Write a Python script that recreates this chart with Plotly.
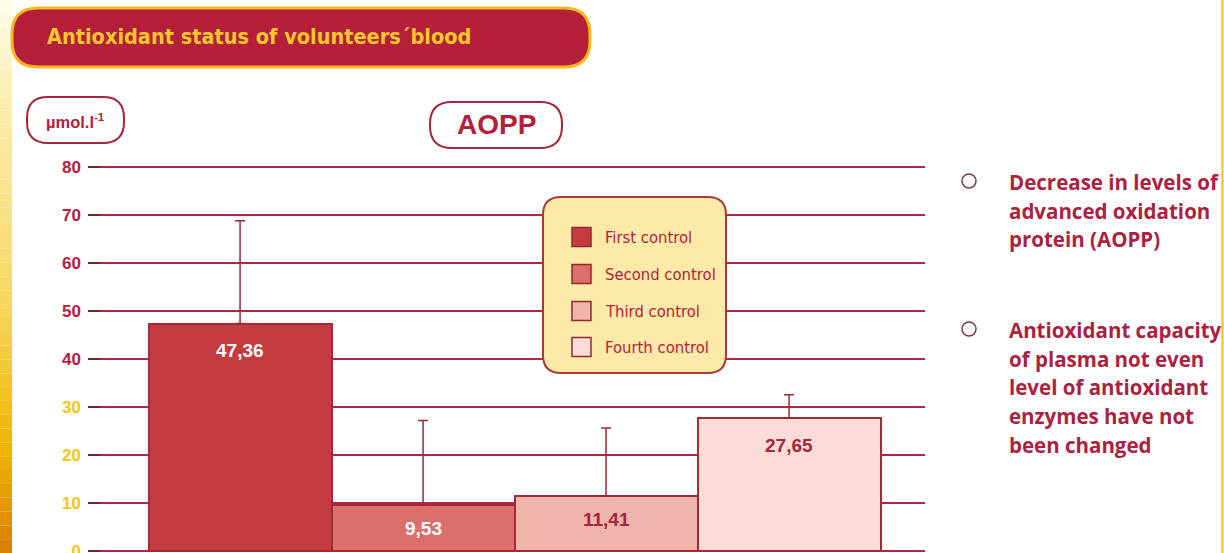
import plotly.graph_objects as go

# ---------------- data ----------------
categories = ["First control", "Second control", "Third control", "Fourth control"]
means = [47.36, 9.53, 11.41, 27.65]
err_plus = [21.4, 17.6, 14.2, 4.85]
bar_colors = ["#c33c40", "#dc6f6b", "#efb4aa", "#fcdcd6"]
label_colors = ["#ffffff", "#ffffff", "#a8243a", "#a8243a"]
y_ticks = [0, 10, 20, 30, 40, 50, 60, 70, 80]
tick_colors = ["#f6c617"] * 4 + ["#b3203c"] * 5
title_text = "Antioxidant status of volunteers\u00b4blood"
unit_text = "\u00b5mol.l<sup>-1</sup>"
panel_title = "AOPP"
bullet_blocks = [
    ["Decrease in levels of", "advanced oxidation", "protein (AOPP)"],
    ["Antioxidant capacity", "of plasma not even", "level of antioxidant", "enzymes have not", "been changed"],
]

# ---------------- geometry helpers (pixels -> paper) ----------------
W, H = 1224, 553
L, R, T, B = 88, 925, 165, 552
Y_RANGE = [-0.25, 80.4]


def px(x):
    return (x - L) / (R - L)


def py(y):
    return (B - y) / (B - T)


def rrect(x0, y0, x1, y1, r):
    pts = [
        ("M", [(x0 + r, y0)]), ("L", [(x1 - r, y0)]), ("Q", [(x1, y0), (x1, y0 + r)]),
        ("L", [(x1, y1 - r)]), ("Q", [(x1, y1), (x1 - r, y1)]), ("L", [(x0 + r, y1)]),
        ("Q", [(x0, y1), (x0, y1 - r)]), ("L", [(x0, y0 + r)]), ("Q", [(x0, y0), (x0 + r, y0)]),
    ]
    s = ""
    for cmd, ps in pts:
        s += cmd + " " + " ".join(f"{px(a):.5f},{py(b):.5f}" for a, b in ps) + " "
    return s + "Z"


CRIMSON = "#b3203c"
NARROW = "Liberation Sans Narrow, DejaVu Sans Condensed, sans-serif"
BOLD = "Liberation Sans, Arial, sans-serif"

fig = go.Figure()

xs = list(range(len(categories)))
for i, (cat, m, e, c) in enumerate(zip(categories, means, err_plus, bar_colors)):
    fig.add_trace(go.Bar(
        x=[xs[i]], y=[m], name=cat, width=1.0,
        marker=dict(color=c, line=dict(color="#a32b38", width=2)),
        error_y=dict(type="data", symmetric=False, array=[e], arrayminus=[0],
                     color="#9a2636", thickness=1.5, width=5),
        showlegend=False, hoverinfo="skip",
    ))

# value labels
annotations = []
for i, (m, lc) in enumerate(zip(means, label_colors)):
    annotations.append(dict(
        x=xs[i], y=m, xref="x", yref="y", text=f"{m:.2f}".replace(".", ","),
        showarrow=False, yanchor="middle", yshift=-27 if m > 12 else -23,
        font=dict(family=BOLD, size=19, color=lc, weight="bold"),
    ))

shapes = []
# left gradient strip
stops = [(0, (255, 252, 236)), (100, (251, 238, 176)), (300, (247, 216, 96)),
         (450, (240, 180, 0)), (553, (218, 126, 0))]
n = 40
for k in range(n):
    y0 = H * k / n
    y1 = H * (k + 1) / n
    ym = (y0 + y1) / 2
    for j in range(len(stops) - 1):
        if stops[j][0] <= ym <= stops[j + 1][0]:
            t = (ym - stops[j][0]) / (stops[j + 1][0] - stops[j][0])
            col = tuple(int(stops[j][1][q] + t * (stops[j + 1][1][q] - stops[j][1][q])) for q in range(3))
            break
    shapes.append(dict(type="rect", xref="paper", yref="paper", x0=px(0), x1=px(12),
                       y0=py(y1), y1=py(y0), fillcolor=f"rgb{col}", line=dict(width=0), layer="above"))

# right thin yellow line
shapes.append(dict(type="line", xref="paper", yref="paper", x0=px(1222.5), x1=px(1222.5),
                   y0=py(0), y1=py(553), line=dict(color="#f2c200", width=2)))

# title banner
shapes.append(dict(type="path", xref="paper", yref="paper", path=rrect(12, 8, 590, 67, 26),
                   fillcolor="#b41f3a", line=dict(color="#f4b81c", width=3), layer="above"))
annotations.append(dict(x=px(45), y=py(37), xref="paper", yref="paper", text=title_text,
                        showarrow=False, xanchor="left", yanchor="middle",
                        font=dict(family=NARROW, size=21.5, color="#fcc72b", weight="bold")))

# unit box
shapes.append(dict(type="path", xref="paper", yref="paper", path=rrect(27, 97, 124, 143, 21),
                   fillcolor="white", line=dict(color="#a3283a", width=2)))
annotations.append(dict(x=px(75), y=py(121), xref="paper", yref="paper", text=unit_text,
                        showarrow=False, xanchor="center", yanchor="middle",
                        font=dict(family=BOLD, size=16.5, color=CRIMSON, weight="bold")))

# AOPP box
shapes.append(dict(type="path", xref="paper", yref="paper", path=rrect(430, 102, 562, 148, 22),
                   fillcolor="white", line=dict(color="#a3283a", width=2)))
annotations.append(dict(x=px(496), y=py(125), xref="paper", yref="paper", text=panel_title,
                        showarrow=False, xanchor="center", yanchor="middle",
                        font=dict(family=BOLD, size=28, color=CRIMSON, weight="bold")))

# legend box
shapes.append(dict(type="path", xref="paper", yref="paper", path=rrect(543, 197, 726, 373, 18),
                   fillcolor="#fde9a8", line=dict(color="#a83a3a", width=2), layer="above"))
leg_y = [237, 274, 311, 347]
for cat, c, ly in zip(categories, bar_colors, leg_y):
    shapes.append(dict(type="rect", xref="paper", yref="paper", x0=px(572), x1=px(591),
                       y0=py(ly + 9.5), y1=py(ly - 9.5), fillcolor=c,
                       line=dict(color="#8e2a33", width=1.5), layer="above"))
    annotations.append(dict(x=px(603), y=py(ly), xref="paper", yref="paper", text=cat,
                            showarrow=False, xanchor="left", yanchor="middle",
                            font=dict(family=NARROW, size=16.5, color=CRIMSON)))

# right bullet text
block_tops = [182, 330]
for blk, y0 in zip(bullet_blocks, block_tops):
    shapes.append(dict(type="circle", xref="paper", yref="paper", x0=px(962), x1=px(976),
                       y0=py(y0 + 6), y1=py(y0 - 8), line=dict(color="#7a3a48", width=1.5),
                       fillcolor="white"))
    for k, line in enumerate(blk):
        annotations.append(dict(x=px(1007), y=py(y0 + 28.7 * k), xref="paper", yref="paper",
                                text=line, showarrow=False, xanchor="left", yanchor="middle",
                                font=dict(family="Open Sans, sans-serif", size=20.5,
                                          color="#ad2140", weight="bold")))

fig.update_layout(
    width=W, height=H,
    margin=dict(l=L, r=W - R, t=T, b=H - B, autoexpand=False),
    paper_bgcolor="white", plot_bgcolor="white",
    barmode="overlay", bargap=0,
    xaxis=dict(range=[-0.831, 3.743], showgrid=False, zeroline=False, showticklabels=False,
               ticks="", showline=False, fixedrange=True),
    yaxis=dict(range=Y_RANGE, tickvals=y_ticks,
               ticktext=[f'<span style="color:{c}">{v}</span>' for v, c in zip(y_ticks, tick_colors)],
               showgrid=True, gridcolor="#b3263e", gridwidth=2, zeroline=False,
               ticks="inside", ticklen=12, tickwidth=2, tickcolor="#6e2832",
               tickfont=dict(family=BOLD, size=17, color=CRIMSON, weight="bold"),
               ticklabelstandoff=6, ticklabeloverflow="allow", automargin=False,
               showline=False, fixedrange=True),
    shapes=shapes, annotations=annotations,
    showlegend=False,
)

fig.write_html("out.html", config={"displayModeBar": False},
               post_script="document.body.style.margin='0';")
